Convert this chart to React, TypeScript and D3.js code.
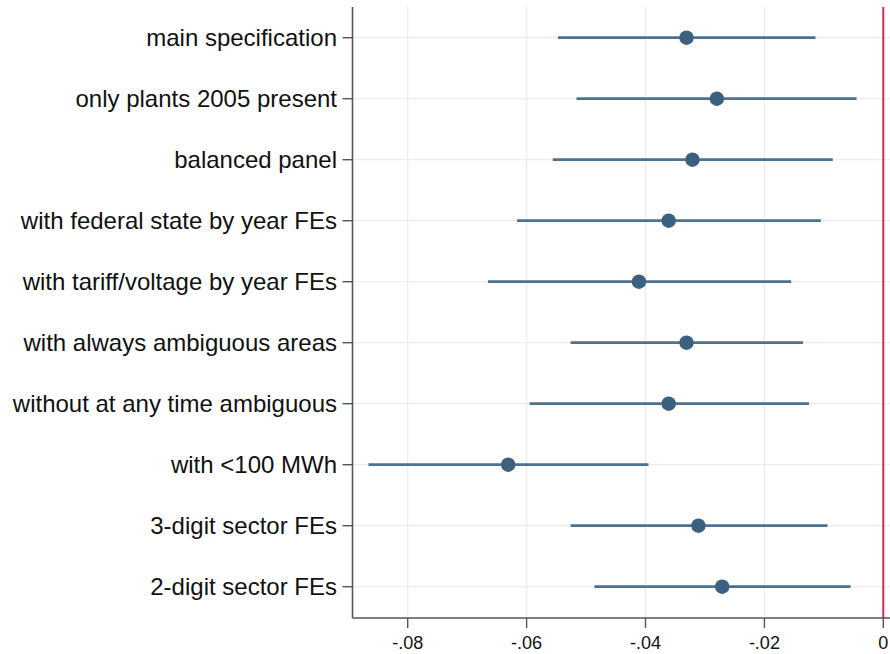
import React from "react";
import * as d3 from "d3";

// Specification labels, top to bottom
const specs = [
  "main specification",
  "only plants 2005 present",
  "balanced panel",
  "with federal state by year FEs",
  "with tariff/voltage by year FEs",
  "with always ambiguous areas",
  "without at any time ambiguous",
  "with <100 MWh",
  "3-digit sector FEs",
  "2-digit sector FEs",
];

// Point estimates
const estimates = [-0.0331, -0.028, -0.0321, -0.0361, -0.0411, -0.0331, -0.0361, -0.0631, -0.0311, -0.0271];
// Confidence interval bounds
const ciLower = [-0.0547, -0.0516, -0.0556, -0.0616, -0.0665, -0.0526, -0.0595, -0.0866, -0.0526, -0.0486];
const ciUpper = [-0.0114, -0.0045, -0.0085, -0.0105, -0.0155, -0.0135, -0.0125, -0.0395, -0.0094, -0.0055];

// x-axis ticks and labels
const xTicks = [-0.08, -0.06, -0.04, -0.02, 0];
const xTickLabels = ["-.08", "-.06", "-.04", "-.02", "0"];

const W = 890;
const H = 654;
const axisX = 352.5;
const axisY = 618;
const top = 7;

export default function App() {
  const x = d3.scaleLinear().domain([-0.08, 0]).range([407.7, 883.3]);
  const y = d3
    .scalePoint<string>()
    .domain(specs)
    .range([37.7, 586.7]);

  const font = "'Liberation Sans', Arial, sans-serif";
  const lineColor = "#4d7190";
  const dotColor = "#3c6080";

  return (
    <svg
      width={W}
      height={H}
      style={{ position: "absolute", left: 0, top: 0, background: "#fff" }}
    >
      {/* vertical gridlines */}
      {xTicks.slice(0, -1).map((t) => (
        <line key={"vg" + t} x1={x(t)} x2={x(t)} y1={top} y2={axisY} stroke="#ebebeb" strokeWidth={1.2} />
      ))}
      {/* horizontal gridlines */}
      {specs.map((s) => (
        <line key={"hg" + s} x1={axisX} x2={W} y1={y(s)} y2={y(s)} stroke="#ededed" strokeWidth={1.2} />
      ))}

      {/* reference line at zero */}
      <line x1={x(0)} x2={x(0)} y1={top} y2={axisY} stroke="#d42a52" strokeWidth={2} />

      {/* confidence intervals */}
      {specs.map((s, i) => (
        <line
          key={"ci" + s}
          x1={x(ciLower[i])}
          x2={x(ciUpper[i])}
          y1={y(s)}
          y2={y(s)}
          stroke={lineColor}
          strokeWidth={2.8}
        />
      ))}
      {/* point estimates */}
      {specs.map((s, i) => (
        <circle key={"pt" + s} cx={x(estimates[i])} cy={y(s)} r={7.2} fill={dotColor} />
      ))}

      {/* axes */}
      <line x1={axisX} x2={axisX} y1={top} y2={axisY} stroke="#555" strokeWidth={1.6} />
      <line x1={axisX} x2={W} y1={axisY} y2={axisY} stroke="#555" strokeWidth={1.6} />

      {/* y ticks and labels */}
      {specs.map((s) => (
        <g key={"yl" + s}>
          <line x1={axisX - 10} x2={axisX} y1={y(s)} y2={y(s)} stroke="#555" strokeWidth={1.4} />
          <text
            x={337}
            y={y(s)}
            dy="0.35em"
            textAnchor="end"
            fontFamily={font}
            fontSize={24}
            fill="#111"
          >
            {s}
          </text>
        </g>
      ))}

      {/* x ticks and labels */}
      {xTicks.map((t, i) => (
        <g key={"xt" + t}>
          <line x1={x(t)} x2={x(t)} y1={axisY} y2={axisY + 10} stroke="#555" strokeWidth={1.4} />
          <text
            x={x(t)}
            y={643}
            dy="0.35em"
            textAnchor="middle"
            fontFamily={font}
            fontSize={18}
            fill="#111"
          >
            {xTickLabels[i]}
          </text>
        </g>
      ))}
    </svg>
  );
}
